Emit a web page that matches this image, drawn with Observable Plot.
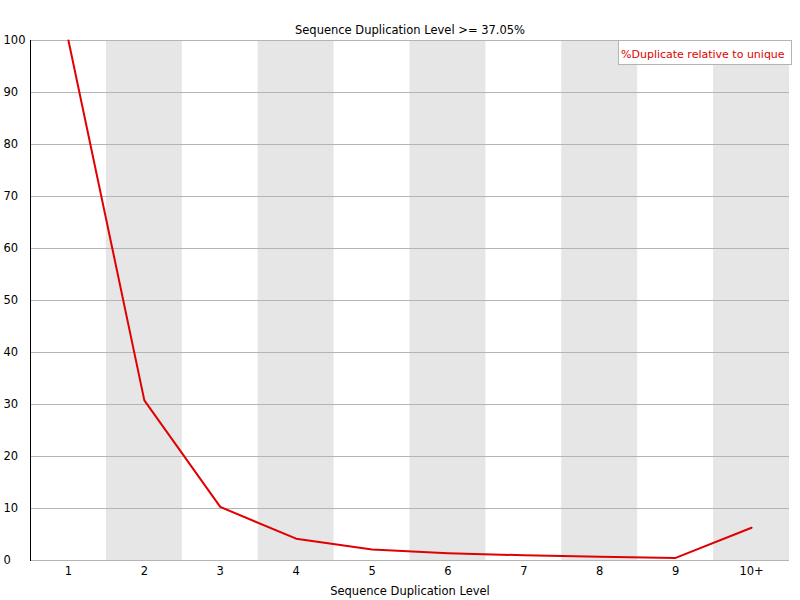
<!DOCTYPE html>
<html>
<head>
<meta charset="utf-8">
<script src="https://cdn.jsdelivr.net/npm/d3@7"></script>
<script src="https://cdn.jsdelivr.net/npm/@observablehq/plot@0.6"></script>
<style>
  body { margin: 0; background: white; }
  #chart { position: relative; width: 800px; height: 600px; font-family: "DejaVu Sans", sans-serif; }
  #legend {
    position: absolute; left: 618px; top: 40px; width: 170px; height: 19px;
    border: 1px solid #b4b4b4; background: white; color: #e00000;
    font-size: 11px; line-height: 20px; padding: 4px 0 0 2px; white-space: nowrap; overflow: hidden;
  }
</style>
</head>
<body>
<div id="chart"><div id="legend">%Duplicate relative to unique</div></div>
<script>
// Duplication levels (x categories)
const levels = ["1", "2", "3", "4", "5", "6", "7", "8", "9", "10+"]
// % duplicate relative to unique
const dupPercent = [100, 30.8, 10.3, 4.2, 2.1, 1.4, 1.0, 0.7, 0.5, 6.3]
const yTicks = [0, 10, 20, 30, 40, 50, 60, 70, 80, 90, 100]
// every other category gets a grey band
const shaded = ["2", "4", "6", "8", "10+"]

const rows = levels.map((l, i) => ({level: l, value: dupPercent[i]}))

let chart = Plot.plot({
  width: 800,
  height: 600,
  marginLeft: 30,
  marginRight: 11,
  marginTop: 40,
  marginBottom: 40,
  style: { fontFamily: "DejaVu Sans", fontSize: "11.5px", background: "white", color: "black" },
  x: { type: "band", domain: levels, padding: 0, round: false },
  y: { domain: [0, 100], axis: null },
  marks: [
    Plot.cell(shaded, { x: d => d, fill: "#e6e6e6" }),
    Plot.ruleY(yTicks, { stroke: "#b4b4b4" }),
    Plot.frame({ anchor: "left", stroke: "black" }),
    Plot.axisX({
      tickSize: 0, tickPadding: 6,
      label: "Sequence Duplication Level", labelAnchor: "center", labelArrow: "none", labelOffset: 34
    }),
    Plot.text(yTicks, { y: d => d, text: d => String(d), frameAnchor: "left", textAnchor: "start", dx: -27 }),
    Plot.line(rows, { x: "level", y: "value", stroke: "#e00000", strokeWidth: 2 }),
    Plot.text(["Sequence Duplication Level >= 37.05%"], { text: d => d, frameAnchor: "top", dy: -15 })
  ]
})

d3.select('#chart').insert(() => chart, '#legend')
</script>
</body>
</html>
